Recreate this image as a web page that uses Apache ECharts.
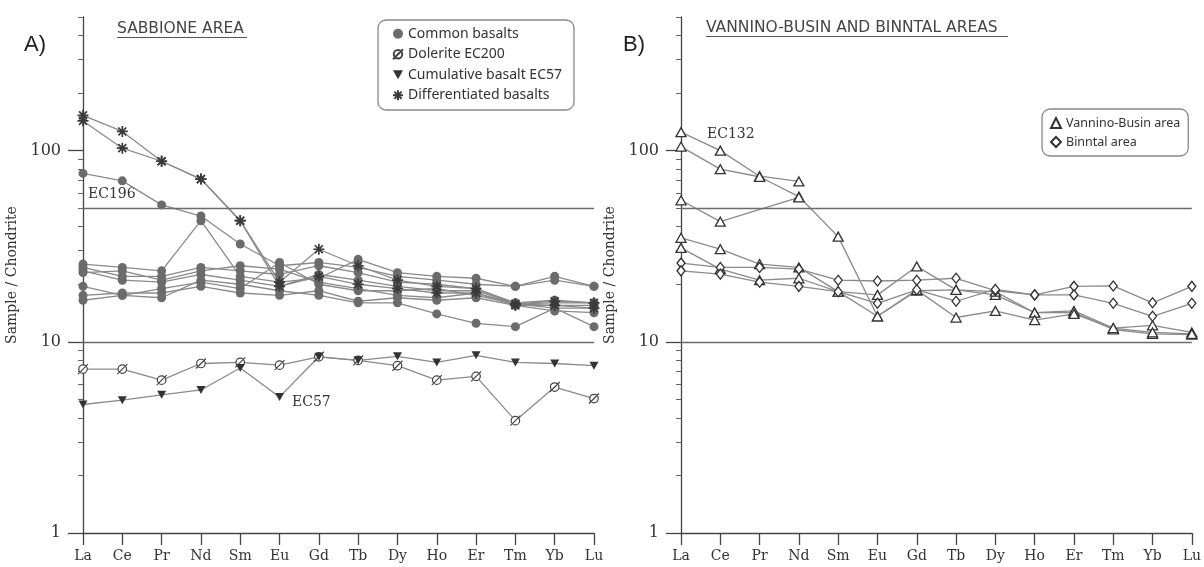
<!DOCTYPE html>
<html>
<head>
<meta charset="utf-8">
<script src="https://cdn.jsdelivr.net/npm/echarts@6/dist/echarts.min.js"></script>
<style>
html,body{margin:0;padding:0;background:#fff}
#chart{width:1204px;height:567px}
</style>
</head>
<body>
<div id="chart"></div>
<script>
// REE elements (x categories) and log-axis ticks
const elements = ['La','Ce','Pr','Nd','Sm','Eu','Gd','Tb','Dy','Ho','Er','Tm','Yb','Lu'];
const yMajorTicks = [1, 10, 100];
const yMinorTicks = [2,3,4,5,6,7,8,9,20,30,40,50,60,70,80,90,200,300,400,500];
const refLevels = [10, 50];

// A) Sabbione area — chondrite-normalised values
const ec196    = [76, 69.5, 52, 45.5, 32.5, 25, 26, 24.5, 22, 21, 20, 19.5, 22, 19.5];
const common2  = [25.5, 24.5, 23.5, 43, 22, 20.5, 21.5, 27, 23, 22, 21.5, 19.5, 21, 19.5];
const common3  = [24.5, 22, 22, 24.5, 23.5, 22.5, 25, 23, 20.5, 20, 19, 16, 16.5, 16];
const common4  = [23.5, 21, 20.5, 22.5, 21, 19.5, 22.5, 21, 19.5, 18.5, 18.5, 15.8, 15.5, 15.5];
const common5  = [19.5, 17.5, 19, 20.5, 19, 26, 20, 18.5, 18.5, 19, 17.5, 15.8, 15, 15];
const common6  = [17.5, 18, 18, 19.5, 18, 17.5, 18.5, 16.3, 17, 16.5, 17, 15.5, 14.5, 14.2];
const common7  = [16.5, 17.5, 17, 21, 20, 18.5, 17.5, 16, 16, 14, 12.5, 12, 15, 12];
const common8  = [23, 23.5, 21, 23.5, 25, 24, 20.5, 19, 17.5, 17, 18, 15.8, 16, 16];
const dolEC200 = [7.2, 7.2, 6.3, 7.7, 7.8, 7.55, 8.35, 8.0, 7.5, 6.3, 6.6, 3.87, 5.8, 5.05];
const cumEC57  = [4.7, 4.95, 5.28, 5.6, 7.3, 5.15, 8.35, 8.0, 8.4, 7.8, 8.5, 7.8, 7.7, 7.5];
const diff1    = [153, 126, 88, 71, 43, 20.5, 30.5, 25, 21, 19.5, 19, 15.8, 16.3, 16];
const diff2    = [143, 103, 88, 71, 43, 19.5, 22, 20, 19, 18, 18, 15.5, 15.5, 15];

// B) Vannino-Busin and Binntal areas
const ec132 = [125, 100, 73.5, 69, null, null, null, null, null, null, null, null, null, null];
const vb2   = [105, 80, 73, 57.5, 35.5, 13.6, 18.5, 18.7, 17.6, 14.2, 14.2, 11.6, 11, 10.9];
const vb3   = [55, 42.5, null, 57, null, null, null, null, null, null, null, null, null, null];
const vb4   = [35, 30.5, 25.5, 24.5, 18.3, 17.6, 24.8, 18.7, 18.3, 14.2, 14.5, 11.8, 12.2, 11.2];
const vb5   = [31, 24, 21, 21.5, 18.3, 13.6, 18.7, 13.4, 14.5, 13, 14, 11.8, 11.2, 11];
const binn1 = [25.8, 24.5, 24.5, 24, 21, 20.8, 21, 21.5, 18.5, 17.6, 19.5, 19.6, 16, 19.5];
const binn2 = [23.5, 22.6, 20.5, 19.5, 18.3, 15.9, 18.7, 16.3, 18.8, 17.6, 17.6, 15.9, 13.6, 15.9];

const SERIF = '"DejaVu Serif", serif';
const SANS = '"Noto Sans", sans-serif';
const AXIS = '#444';
const LINE = '#8a8a8a';
const INK = '#333';

const SYM_DOWN = 'path://M0,0L10,0L5,9Z';
const SYM_SLASH = 'path://M9,5A4,4,0,1,1,1,5A4,4,0,1,1,9,5ZM0.3,9.7L9.7,0.3';
const SYM_STAR = 'path://M5,0L5,10M0,5L10,5M1.4,1.4L8.6,8.6M8.6,1.4L1.4,8.6';

const styles = {
  'Common basalts': {symbol: 'circle', symbolSize: 9, itemStyle: {color: '#6b6b6b'}},
  'Dolerite EC200': {symbol: SYM_SLASH, symbolSize: 10, itemStyle: {color: '#fff', borderColor: '#444', borderWidth: 1.2}},
  'Cumulative basalt EC57': {symbol: SYM_DOWN, symbolSize: [9, 8], itemStyle: {color: '#333'}},
  'Differentiated basalts': {symbol: SYM_STAR, symbolSize: 11, itemStyle: {color: 'rgba(0,0,0,0)', borderColor: '#3a3a3a', borderWidth: 1.7}},
  'Vannino-Busin area': {symbol: 'triangle', symbolSize: [10, 9], itemStyle: {color: '#fff', borderColor: '#333', borderWidth: 1.3}},
  'Binntal area': {symbol: 'diamond', symbolSize: [8, 10], itemStyle: {color: '#fff', borderColor: '#333', borderWidth: 1.3}}
};

function mkSeries(name, data, panel, extra) {
  const st = styles[name];
  return Object.assign({
    type: 'line', name: name, data: data,
    xAxisIndex: panel, yAxisIndex: panel * 2,
    symbol: st.symbol, symbolSize: st.symbolSize, showSymbol: true,
    itemStyle: st.itemStyle,
    lineStyle: {color: LINE, width: 1.3},
    connectNulls: true, silent: true, animation: false, z: 3
  }, extra || {});
}

function refLine() {
  return {
    silent: true, symbol: 'none', label: {show: false},
    lineStyle: {color: '#6a6a6a', width: 1.3, type: 'solid'},
    data: refLevels.map(v => ({yAxis: v}))
  };
}

const series = [
  mkSeries('Common basalts', ec196, 0, {markLine: refLine()}),
  mkSeries('Common basalts', common2, 0),
  mkSeries('Common basalts', common3, 0),
  mkSeries('Common basalts', common4, 0),
  mkSeries('Common basalts', common5, 0),
  mkSeries('Common basalts', common6, 0),
  mkSeries('Common basalts', common7, 0),
  mkSeries('Common basalts', common8, 0),
  mkSeries('Dolerite EC200', dolEC200, 0),
  mkSeries('Cumulative basalt EC57', cumEC57, 0),
  mkSeries('Differentiated basalts', diff1, 0),
  mkSeries('Differentiated basalts', diff2, 0),
  mkSeries('Vannino-Busin area', ec132, 1, {markLine: refLine()}),
  mkSeries('Vannino-Busin area', vb2, 1),
  mkSeries('Vannino-Busin area', vb3, 1),
  mkSeries('Vannino-Busin area', vb4, 1),
  mkSeries('Vannino-Busin area', vb5, 1),
  mkSeries('Binntal area', binn1, 1),
  mkSeries('Binntal area', binn2, 1)
];

function xAxis(grid) {
  return {
    gridIndex: grid, type: 'category', data: elements, boundaryGap: false,
    axisLine: {onZero: false, lineStyle: {color: AXIS, width: 1.3}},
    axisTick: {show: true, length: 12, alignWithLabel: true, interval: 0, lineStyle: {color: AXIS, width: 1.3}},
    axisLabel: {interval: 0, margin: 16, fontFamily: SERIF, fontSize: 14, color: INK},
    splitLine: {show: false}
  };
}
function yMajor(grid) {
  return {
    gridIndex: grid, type: 'log', logBase: 10, min: 1, max: 500, position: 'left',
    axisLine: {show: true, lineStyle: {color: AXIS, width: 1.3}},
    axisTick: {show: true, length: 15, customValues: yMajorTicks, lineStyle: {color: AXIS, width: 1.3}},
    axisLabel: {customValues: yMajorTicks, margin: 22, fontFamily: SERIF, fontSize: 16, color: INK},
    splitLine: {show: false},
    name: 'Sample / Chondrite', nameLocation: 'middle', nameGap: 64, nameRotate: 90,
    nameTextStyle: {fontFamily: SERIF, fontSize: 14, color: INK}
  };
}
function yMinor(grid) {
  return {
    gridIndex: grid, type: 'log', logBase: 10, min: 1, max: 500, position: 'left', offset: 0,
    axisLine: {show: false},
    axisTick: {show: true, length: 5, customValues: yMinorTicks, lineStyle: {color: '#666', width: 1}},
    axisLabel: {show: false},
    splitLine: {show: false}
  };
}

const legendBase = {
  orient: 'vertical', show: true, selectedMode: false,
  backgroundColor: '#fff', borderColor: '#888', borderWidth: 1.3, borderRadius: 8,
  itemWidth: 10, itemHeight: 10, itemGap: 3
};

const option = {
  animation: false,
  backgroundColor: '#fff',
  grid: [
    {left: 83, top: 17, width: 511, height: 516},
    {left: 681, top: 17, width: 512, height: 516}
  ],
  xAxis: [xAxis(0), xAxis(1)],
  yAxis: [yMajor(0), yMinor(0), yMajor(1), yMinor(1)],
  legend: [
    Object.assign({}, legendBase, {
      left: 378, top: 20, padding: [5, 12, 6, 14],
      textStyle: {fontFamily: SANS, fontSize: 14, color: INK, lineHeight: 17.5},
      data: [
        {name: 'Common basalts', icon: 'circle'},
        {name: 'Dolerite EC200', icon: SYM_SLASH},
        {name: 'Cumulative basalt EC57', icon: SYM_DOWN},
        {name: 'Differentiated basalts', icon: SYM_STAR}
      ]
    }),
    Object.assign({}, legendBase, {
      left: 1042, top: 109, padding: [6, 8, 6, 8], itemGap: 3,
      textStyle: {fontFamily: SANS, fontSize: 12.5, color: INK, lineHeight: 16},
      data: [
        {name: 'Vannino-Busin area', icon: 'triangle'},
        {name: 'Binntal area', icon: 'diamond'}
      ]
    })
  ],
  graphic: [
    {type: 'text', x: 24, y: 45, style: {text: 'A)', fontFamily: '"Liberation Sans", sans-serif', fontSize: 22, fill: '#222', verticalAlign: 'middle'}},
    {type: 'text', x: 623, y: 45, style: {text: 'B)', fontFamily: '"Liberation Sans", sans-serif', fontSize: 22, fill: '#222', verticalAlign: 'middle'}},
    {type: 'text', x: 117, y: 29, style: {text: 'SABBIONE AREA', fontFamily: '"DejaVu Sans", sans-serif', fontSize: 15.5, fill: '#444', verticalAlign: 'middle'}},
    {type: 'line', shape: {x1: 117, y1: 37.5, x2: 247, y2: 37.5}, style: {stroke: '#555', lineWidth: 1}},
    {type: 'text', x: 706, y: 28, style: {text: 'VANNINO-BUSIN AND BINNTAL AREAS', fontFamily: '"DejaVu Sans", sans-serif', fontSize: 15.5, fill: '#444', verticalAlign: 'middle'}},
    {type: 'line', shape: {x1: 706, y1: 36.5, x2: 1008, y2: 36.5}, style: {stroke: '#555', lineWidth: 1}},
    {type: 'text', x: 88, y: 194, style: {text: 'EC196', fontFamily: SERIF, fontSize: 14, fill: INK, verticalAlign: 'middle'}},
    {type: 'text', x: 292, y: 402, style: {text: 'EC57', fontFamily: SERIF, fontSize: 14, fill: INK, verticalAlign: 'middle'}},
    {type: 'text', x: 707, y: 134, style: {text: 'EC132', fontFamily: SERIF, fontSize: 14, fill: INK, verticalAlign: 'middle'}}
  ],
  series: series
};

const chart = echarts.init(document.getElementById('chart'), null, {renderer: 'canvas'});
chart.setOption(option);
</script>
</body>
</html>
